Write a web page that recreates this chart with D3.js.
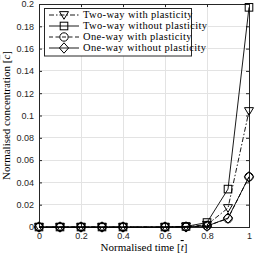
<!DOCTYPE html>
<html><head><meta charset="utf-8">
<script src="https://cdn.jsdelivr.net/npm/d3@7"></script>
<style>body{margin:0;background:#fff}svg{display:block}</style>
</head><body>
<script>
const times = [0, 0.1, 0.2, 0.3, 0.4, 0.6, 0.7, 0.8, 0.9, 1];
const twoWayPlastic = [0, 0, 0, 0, 0, 0, 0.0003, 0.002, 0.017, 0.104];
const twoWayElastic = [0, 0, 0, 0, 0, 0, 0.0005, 0.004, 0.034, 0.197];
const oneWayPlastic = [0, 0, 0, 0, 0, 0, 0.0002, 0.001, 0.0075, 0.045];
const oneWayElastic = [0, 0, 0, 0, 0, 0, 0.0001, 0.0008, 0.008, 0.045];
const seriesNames = ["Two-way with plasticity", "Two-way without plasticity", "One-way with plasticity", "One-way without plasticity"];
const xTicks = [0, 0.2, 0.4, 0.6, 0.8, 1];
const yTicks = [0, 0.02, 0.04, 0.06, 0.08, 0.1, 0.12, 0.14, 0.16, 0.18, 0.2];

const W = 255, H = 258;
const m = {l: 39, r: 249, t: 4, b: 227};
const svg = d3.select("body").append("svg").attr("width", W).attr("height", H);
const x = d3.scaleLinear().domain([0, 1]).range([m.l, m.r]);
const y = d3.scaleLinear().domain([0, 0.2]).range([m.b, m.t]);

// grid
const g = svg.append("g");
g.selectAll(".gx").data(xTicks).join("line").attr("x1", d => x(d)).attr("x2", d => x(d))
  .attr("y1", m.t).attr("y2", m.b).attr("stroke", "#e3e3e3").attr("stroke-width", 1).attr("shape-rendering","crispEdges");
g.selectAll(".gy").data(yTicks).join("line").attr("y1", d => y(d)).attr("y2", d => y(d))
  .attr("x1", m.l).attr("x2", m.r).attr("stroke", "#e3e3e3").attr("stroke-width", 1).attr("shape-rendering","crispEdges");

// axes
const tickFmt = d => d === 0 ? "0" : String(+d.toFixed(2));
const axB = svg.append("g").attr("transform", `translate(0,${m.b})`)
  .call(d3.axisBottom(x).tickValues(xTicks).tickSizeInner(-3).tickSizeOuter(0).tickPadding(6).tickFormat(tickFmt));
const axT = svg.append("g").attr("transform", `translate(0,${m.t})`)
  .call(d3.axisTop(x).tickValues(xTicks).tickSizeInner(-3).tickSizeOuter(0).tickFormat(""));
const axL = svg.append("g").attr("transform", `translate(${m.l},0)`)
  .call(d3.axisLeft(y).tickValues(yTicks).tickSizeInner(-3).tickSizeOuter(0).tickPadding(5).tickFormat(tickFmt));
const axR = svg.append("g").attr("transform", `translate(${m.r},0)`)
  .call(d3.axisRight(y).tickValues(yTicks).tickSizeInner(-3).tickSizeOuter(0).tickFormat(""));
[axB, axT, axL, axR].forEach(a => {
  a.selectAll("path").attr("stroke", "#262626").attr("shape-rendering","crispEdges");
  a.selectAll("line").attr("stroke", "#262626");
  a.selectAll("text").attr("fill", "#262626").style("font-family", "Liberation Sans, Arial, sans-serif").style("font-size", "9px");
});

// series
const data = [twoWayPlastic, twoWayElastic, oneWayPlastic, oneWayElastic];
const dashes = ["5,2,1.5,2", null, "4,2.5", null];
const markers = ["tri", "sq", "circ", "dia"];
const line = d3.line().x((d, i) => x(times[i])).y(d => y(d));

function drawMarker(sel, type, cx, cy) {
  const s = 4.5;
  let el;
  if (type === "tri") el = sel.append("path").attr("d", `M${cx - s},${cy - s * 0.75}L${cx + s},${cy - s * 0.75}L${cx},${cy + s * 0.95}Z`);
  else if (type === "sq") el = sel.append("rect").attr("x", cx - 3.8).attr("y", cy - 3.8).attr("width", 7.6).attr("height", 7.6);
  else if (type === "circ") el = sel.append("circle").attr("cx", cx).attr("cy", cy).attr("r", 4.2);
  else el = sel.append("path").attr("d", `M${cx},${cy - 5.2}L${cx + 4.6},${cy}L${cx},${cy + 5.2}L${cx - 4.6},${cy}Z`);
  el.attr("fill", "none").attr("stroke", "#000").attr("stroke-width", 1);
}

const plot = svg.append("g");
data.forEach((vals, k) => {
  plot.append("path").datum(vals).attr("d", line).attr("fill", "none").attr("stroke", "#000")
    .attr("stroke-width", 0.9).attr("stroke-dasharray", dashes[k]);
  const mg = plot.append("g");
  vals.forEach((v, i) => drawMarker(mg, markers[k], x(times[i]), y(v)));
});

// legend
const lg = svg.append("g");
lg.append("rect").attr("x", 44.5).attr("y", 8.5).attr("width", 147).attr("height", 47.5)
  .attr("fill", "#fff").attr("stroke", "#262626").attr("stroke-width", 1);
seriesNames.forEach((name, k) => {
  const ly = 15 + k * 11;
  lg.append("line").attr("x1", 49).attr("x2", 79).attr("y1", ly).attr("y2", ly)
    .attr("stroke", "#000").attr("stroke-width", 0.9).attr("stroke-dasharray", dashes[k]);
  drawMarker(lg, markers[k], 64, ly);
  lg.append("text").attr("x", 83).attr("y", ly + 3.3).text(name)
    .style("font-family", "Liberation Serif, Times New Roman, serif").style("font-size", "10.5px")
    .style("letter-spacing", "0.35px").attr("fill", "#000");
});

// axis labels
const serif = "Liberation Serif, Times New Roman, serif";
const xl = svg.append("text").attr("x", (m.l + m.r) / 2).attr("y", 251).attr("text-anchor", "middle")
  .style("font-family", serif).style("font-size", "11px").attr("fill", "#000");
xl.append("tspan").text("Normalised time [");
xl.append("tspan").text("t").style("font-style", "italic").style("text-decoration", "overline");
xl.append("tspan").text("]");

const yl = svg.append("text").attr("transform", `translate(10,${(m.t + m.b) / 2}) rotate(-90)`).attr("text-anchor", "middle")
  .style("font-family", serif).style("font-size", "11px").attr("fill", "#000");
yl.append("tspan").text("Normalised concentration [");
yl.append("tspan").text("c").style("font-style", "italic").style("text-decoration", "overline");
yl.append("tspan").text("]");
</script>
</body></html>
